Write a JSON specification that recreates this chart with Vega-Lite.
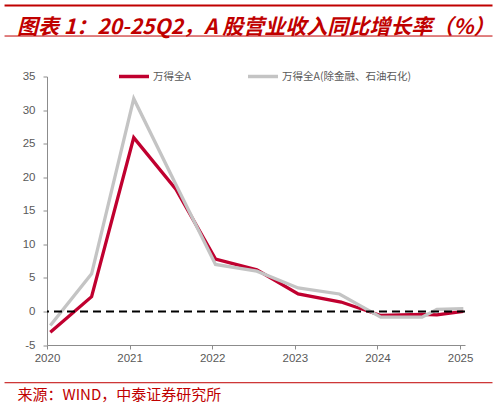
{
  "$schema": "https://vega.github.io/schema/vega-lite/v6.json",
  "width": 418,
  "height": 268.5,
  "autosize": "none",
  "padding": {"left": 47, "top": 76.5, "right": 33, "bottom": 61},
  "background": "white",
  "config": {
    "view": {"stroke": null},
    "font": "Liberation Sans",
    "axis": {
      "grid": false,
      "labelFlush": false,
      "labelOverlap": false,
      "domainColor": "#8c8c8c",
      "tickColor": "#8c8c8c",
      "tickSize": 4,
      "labelColor": "#595959",
      "labelFontSize": 11.5
    },
    "legend": {
      "orient": "none",
      "legendX": 70,
      "legendY": -17,
      "direction": "horizontal",
      "symbolType": "stroke",
      "symbolSize": 900,
      "symbolStrokeWidth": 3.5,
      "labelFont": "Noto Sans CJK SC",
      "labelFontSize": 10.5,
      "labelColor": "#595959",
      "columnPadding": 50,
      "labelOffset": 2
    }
  },
  "title": {
    "text": "图表 1：20-25Q2，A 股营业收入同比增长率（%）",
    "anchor": "start",
    "frame": "group",
    "dx": -30,
    "offset": -54.5,
    "baseline": "bottom",
    "font": "Noto Sans CJK SC",
    "fontSize": 21,
    "fontWeight": "bold",
    "fontStyle": "italic",
    "color": "#C00000"
  },
  "datasets": {
    "series": [
      {"t": 2020.04, "v": -3.1, "s": "万得全A"},
      {"t": 2020.54, "v": 2.2, "s": "万得全A"},
      {"t": 2021.05, "v": 25.9, "s": "万得全A"},
      {"t": 2021.56, "v": 18.2, "s": "万得全A"},
      {"t": 2022.04, "v": 7.8, "s": "万得全A"},
      {"t": 2022.54, "v": 6.2, "s": "万得全A"},
      {"t": 2023.04, "v": 2.6, "s": "万得全A"},
      {"t": 2023.56, "v": 1.4, "s": "万得全A"},
      {"t": 2024.04, "v": -0.6, "s": "万得全A"},
      {"t": 2024.54, "v": -0.45, "s": "万得全A"},
      {"t": 2024.72, "v": -0.5, "s": "万得全A"},
      {"t": 2025.04, "v": 0.0, "s": "万得全A"},
      {"t": 2020.04, "v": -2.1, "s": "万得全A(除金融、石油石化)"},
      {"t": 2020.54, "v": 5.6, "s": "万得全A(除金融、石油石化)"},
      {"t": 2021.05, "v": 31.7, "s": "万得全A(除金融、石油石化)"},
      {"t": 2021.56, "v": 18.9, "s": "万得全A(除金融、石油石化)"},
      {"t": 2022.04, "v": 7.0, "s": "万得全A(除金融、石油石化)"},
      {"t": 2022.54, "v": 6.0, "s": "万得全A(除金融、石油石化)"},
      {"t": 2023.04, "v": 3.5, "s": "万得全A(除金融、石油石化)"},
      {"t": 2023.54, "v": 2.6, "s": "万得全A(除金融、石油石化)"},
      {"t": 2024.04, "v": -0.85, "s": "万得全A(除金融、石油石化)"},
      {"t": 2024.54, "v": -0.85, "s": "万得全A(除金融、石油石化)"},
      {"t": 2024.72, "v": 0.3, "s": "万得全A(除金融、石油石化)"},
      {"t": 2025.04, "v": 0.4, "s": "万得全A(除金融、石油石化)"}
    ]
  },
  "layer": [
    {
      "data": {"name": "series"},
      "mark": {"type": "line", "strokeWidth": 3.3},
      "encoding": {
        "x": {
          "field": "t",
          "type": "quantitative",
          "scale": {"domain": [2020, 2025.06], "nice": false, "zero": false},
          "axis": {
            "values": [2020, 2021, 2022, 2023, 2024, 2025],
            "format": "d",
            "labelOverlap": false,
            "labelPadding": 3,
            "title": "来源：WIND，中泰证券研究所",
            "titleAnchor": "start",
            "titleAlign": "left",
            "titleX": -30,
            "titleY": 49,
            "titleBaseline": "middle",
            "titleFont": "Noto Sans CJK SC",
            "titleFontSize": 15,
            "titleFontWeight": "normal",
            "titleColor": "#C00000"
          }
        },
        "y": {
          "field": "v",
          "type": "quantitative",
          "scale": {"domain": [-5, 35], "nice": false, "zero": false},
          "axis": {
            "values": [-5, 0, 5, 10, 15, 20, 25, 30, 35],
            "labelExpr": "'' + datum.value",
            "labelOverlap": false,
            "labelPadding": 8,
            "title": null
          }
        },
        "color": {
          "field": "s",
          "type": "nominal",
          "scale": {"domain": ["万得全A", "万得全A(除金融、石油石化)"], "range": ["#C0002F", "#C4C4C4"]},
          "legend": {"title": null}
        }
      }
    },
    {
      "data": {"values": [{}]},
      "mark": {"type": "rule", "color": "#000000", "strokeWidth": 2, "strokeDash": [8, 5]},
      "encoding": {
        "y": {
          "datum": 0,
          "type": "quantitative",
          "scale": {"domain": [-5, 35], "nice": false, "zero": false},
          "axis": {
            "values": [-5, 0, 5, 10, 15, 20, 25, 30, 35],
            "labelExpr": "'' + datum.value",
            "labelOverlap": false,
            "labelPadding": 8,
            "title": null
          }
        }
      }
    },
    {
      "data": {"values": [{}]},
      "mark": {"type": "rule", "color": "#C00000", "strokeWidth": 2},
      "encoding": {
        "x": {"datum": 2019.486, "type": "quantitative", "scale": {"domain": [2020, 2025.06], "nice": false, "zero": false}, "axis": {"values": [2020, 2021, 2022, 2023, 2024, 2025], "labelOverlap": false}},
        "x2": {"datum": 2025.393},
        "y": {"datum": 45.58, "type": "quantitative", "scale": {"domain": [-5, 35], "nice": false, "zero": false}, "axis": {"values": [-5, 0, 5, 10, 15, 20, 25, 30, 35], "labelOverlap": false}}
      }
    },
    {
      "data": {"values": [{}]},
      "mark": {"type": "rule", "color": "#C00000", "strokeWidth": 1},
      "encoding": {
        "x": {"datum": 2019.486, "type": "quantitative", "scale": {"domain": [2020, 2025.06], "nice": false, "zero": false}, "axis": {"values": [2020, 2021, 2022, 2023, 2024, 2025], "labelOverlap": false}},
        "x2": {"datum": 2025.393},
        "y": {"datum": 41.03, "type": "quantitative", "scale": {"domain": [-5, 35], "nice": false, "zero": false}, "axis": {"values": [-5, 0, 5, 10, 15, 20, 25, 30, 35], "labelOverlap": false}}
      }
    },
    {
      "data": {"values": [{}]},
      "mark": {"type": "rule", "color": "#C00000", "strokeWidth": 1},
      "encoding": {
        "x": {"datum": 2019.486, "type": "quantitative", "scale": {"domain": [2020, 2025.06], "nice": false, "zero": false}, "axis": {"values": [2020, 2021, 2022, 2023, 2024, 2025], "labelOverlap": false}},
        "x2": {"datum": 2025.393},
        "y": {"datum": -10.62, "type": "quantitative", "scale": {"domain": [-5, 35], "nice": false, "zero": false}, "axis": {"values": [-5, 0, 5, 10, 15, 20, 25, 30, 35], "labelOverlap": false}}
      }
    }
  ]
}
